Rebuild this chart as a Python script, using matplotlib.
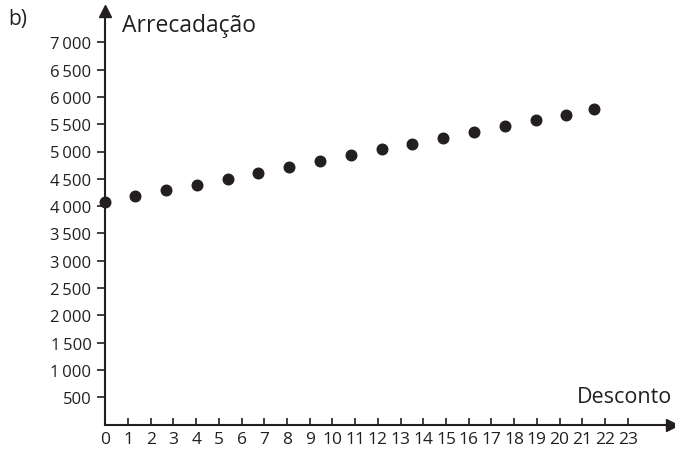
import matplotlib.pyplot as plt

plt.rcParams['font.family'] = ['Open Sans', 'DejaVu Sans']

# Desconto (x) and Arrecadação (y)
desconto = [0, 1.31, 2.66, 4.04, 5.39, 6.74, 8.09, 9.46, 10.81, 12.17,
            13.52, 14.89, 16.24, 17.60, 18.95, 20.30, 21.51]
arrecadacao = [4070, 4180, 4290, 4390, 4500, 4600, 4710, 4820, 4930, 5040,
               5140, 5250, 5350, 5460, 5570, 5670, 5770]
x_ticks = list(range(0, 24))
y_ticks = list(range(500, 7001, 500))
y_labels = ['500'] + [f'{v // 1000}\u2009{v % 1000:03d}' for v in y_ticks[1:]]

ink = '#231f20'

fig = plt.figure(figsize=(6.75, 4.52), dpi=100)
ax = fig.add_axes([105.3 / 675, (452 - 425.5) / 452, (672 - 105.3) / 675, (425.5 - 12) / 452])

ax.scatter(desconto, arrecadacao, s=58, color=ink, zorder=3, clip_on=False)

ax.set_xlim(0, (672 - 105.3) / 22.71)
ax.set_ylim(0, (425.5 - 12) / 27.3 * 500)

for s in ['top', 'right']:
    ax.spines[s].set_visible(False)
for s in ['left', 'bottom']:
    ax.spines[s].set_linewidth(1.5)
    ax.spines[s].set_color(ink)

ax.plot(1, 0, '>', color=ink, ms=8, transform=ax.transAxes, clip_on=False)
ax.plot(0, 1, '^', color=ink, ms=8, transform=ax.transAxes, clip_on=False)

ax.set_xticks(x_ticks)
ax.set_xticklabels([str(v) for v in x_ticks])
ax.set_yticks(y_ticks)
ax.set_yticklabels(y_labels)
ax.tick_params(axis='x', direction='in', length=5, width=1.2, color=ink,
               labelsize=12.5, labelcolor=ink, pad=5)
ax.tick_params(axis='y', direction='out', length=5.5, width=1.2, color=ink,
               labelsize=12, labelcolor=ink, pad=4.5)

fig.text(122 / 675, 1 - 26 / 452, 'Arrecadação', fontsize=16.5, color=ink, va='center', ha='left')
fig.text(672 / 675, 1 - 398 / 452, 'Desconto', fontsize=15.5, color=ink, va='center', ha='right')
fig.text(8 / 675, 1 - 20 / 452, 'b)', fontsize=15, color=ink, va='center', ha='left')

fig.savefig('out.png', dpi=100)
